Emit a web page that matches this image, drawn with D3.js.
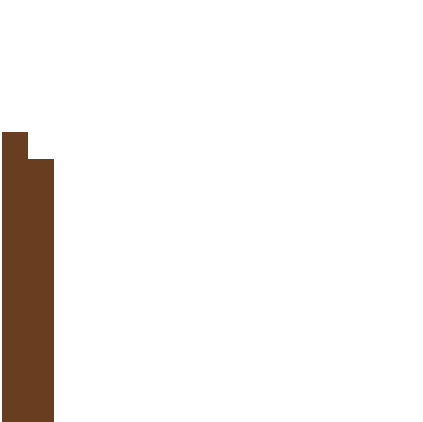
<!DOCTYPE html>
<html>
<head>
<meta charset="utf-8">
<script src="https://cdn.jsdelivr.net/npm/d3@7"></script>
<style>
  html, body { margin: 0; padding: 0; background: #fff; }
  svg { display: block; }
</style>
</head>
<body>
<svg width="423" height="422"></svg>
<script>
const categories = ["A", "B"];
const values = [29.0, 26.3];

const svg = d3.select("svg");
const width = +svg.attr("width");
const height = +svg.attr("height");

const x = d3.scaleBand()
    .domain(categories)
    .range([2, 54])
    .padding(0);

const y = d3.scaleLinear()
    .domain([0, 42.2])
    .range([height, 0]);

svg.selectAll("rect.bar")
    .data(categories)
    .enter()
    .append("rect")
    .attr("class", "bar")
    .attr("x", d => x(d))
    .attr("width", x.bandwidth())
    .attr("y", (d, i) => y(values[i]))
    .attr("height", (d, i) => height - y(values[i]))
    .attr("fill", "#693d1f");
</script>
</body>
</html>
